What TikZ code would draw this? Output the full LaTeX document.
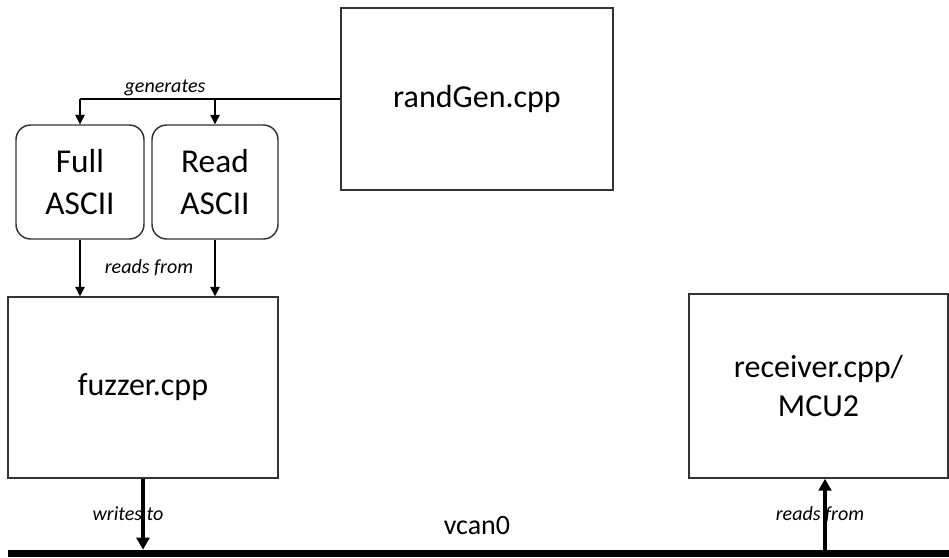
\documentclass[tikz,border=0pt]{standalone}
\usepackage{fontspec}
\setmainfont{Carlito}
\usetikzlibrary{arrows.meta,calc}
\begin{document}
\begin{tikzpicture}[x=0.75pt,y=-0.75pt,
  box/.style={draw=black!80,line width=1.1pt,inner sep=0pt,align=center,
    font=\fontsize{24}{30}\selectfont},
  rbox/.style={box,rounded corners=11pt,font=\fontsize{25}{31.5}\selectfont},
  flow/.style={draw,line width=1.1pt,-{Triangle[length=7pt,width=7pt]}},
  bus/.style={draw,line width=3.2pt,-{Triangle[length=9pt,width=9.5pt]}},
  lbl/.style={font=\fontsize{15}{17}\selectfont\itshape,inner sep=0pt}]
\useasboundingbox (0,0) rectangle (949,557);

\node[box,minimum width=204pt,minimum height=136.5pt] (rand) at (477,99) {randGen.cpp};
\node[rbox,minimum width=96pt,minimum height=85.5pt] (full) at (80,182) {Full\\ASCII};
\node[rbox,minimum width=94.5pt,minimum height=85.5pt] (read) at (215,182) {Read\\ASCII};
\node[box,minimum width=202.5pt,minimum height=135.75pt] (fuzz) at (143,387.5) {fuzzer.cpp};
\node[box,minimum width=194.25pt,minimum height=138pt,font=\fontsize{24}{28.5}\selectfont] (recv) at (818.5,386) {receiver.cpp/\\MCU2};

% the vcan0 bus along the bottom edge
\node[fill=black,inner sep=0pt,minimum width=705.75pt,minimum height=5.25pt] (bus) at (478.5,553.5) {};
\node[font=\fontsize{21}{24}\selectfont,inner sep=0pt] (vcan) at (477,526) {vcan0};

% randGen.cpp feeds both ASCII generators
\coordinate (split) at (full.north |- rand.west);
\draw[line width=1.1pt] (rand.west) -- (split);
\draw[flow] (split) -- (full.north);
\draw[flow] (rand.west -| read.north) -- (read.north);
\node[lbl] (gen) at (165,88) {generates};

% fuzzer.cpp reads both files
\draw[flow] (full.south) -- (full.south |- fuzz.north);
\draw[flow] (read.south) -- (read.south |- fuzz.north);
\node[lbl] (rf1) at (149,268) {reads from};

% bus connections
\draw[bus] (fuzz.south) -- (fuzz.south |- bus.north);
\node[lbl] (wt) at (128,514) {writes to};
\coordinate (rx) at (825,0);
\draw[bus] (bus.north -| rx) -- (recv.south -| rx);
\node[lbl] (rf2) at (820,515) {reads from};
\end{tikzpicture}
\end{document}
